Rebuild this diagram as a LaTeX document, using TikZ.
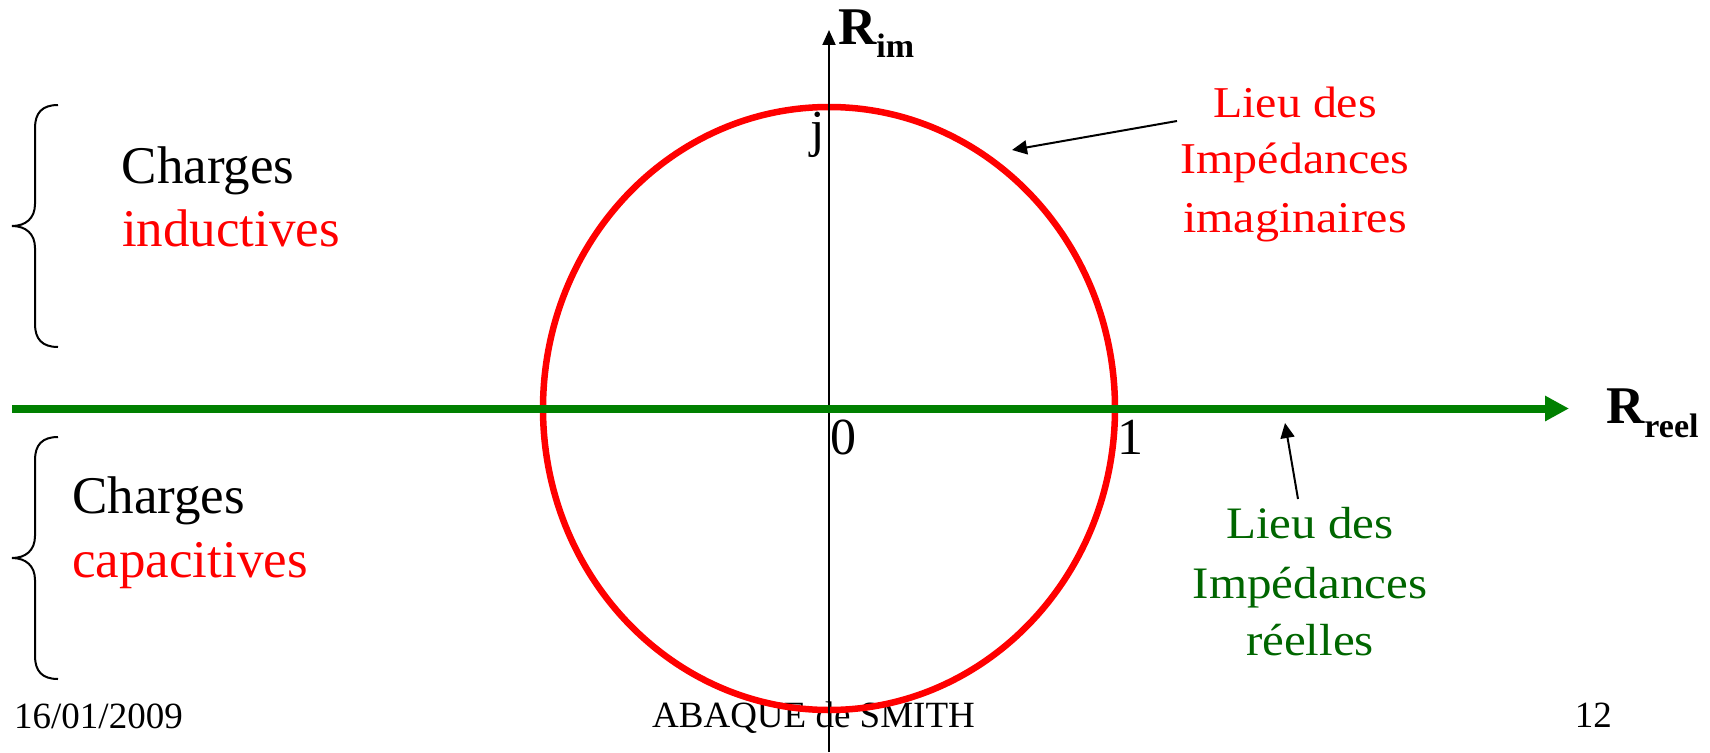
\documentclass[tikz,border=0pt]{standalone}
\usepackage{fontspec}
\setmainfont{Liberation Serif}
\usepackage{graphicx}
\usetikzlibrary{arrows.meta}
\definecolor{axgreen}{RGB}{0,128,0}
\definecolor{txtgreen}{RGB}{0,102,0}
\newcommand{\hsx}[1]{\scalebox{1.09}[1]{#1}}
\begin{document}
\begin{tikzpicture}[x=1pt,y=-1pt,
  big/.style={inner sep=0pt, anchor=base west, font=\fontsize{53}{53}\selectfont},
  note/.style={inner sep=0pt, anchor=base, font=\fontsize{44}{44}\selectfont},
  gnote/.style={note, txtgreen, font=\fontsize{45}{45}\selectfont},
  foot/.style={inner sep=0pt, font=\fontsize{37}{37}\selectfont},
  lbl/.style={inner sep=0pt, anchor=base west, font=\fontsize{52}{52}\selectfont},
  axlbl/.style={inner sep=0pt, anchor=base west, font=\fontsize{53}{53}\selectfont\bfseries},
  brace/.style={line width=2pt},
  callout/.style={line width=2pt, -{Triangle[length=15pt,width=14pt]}},
]
\useasboundingbox (0,0) rectangle (1710,752);

% footer
\node[foot, anchor=base west] (date) at (14,728) {16/01/2009};
\node[foot, anchor=base] (title) at (813.5,727) {ABAQUE de SMITH};
\node[foot, anchor=base east] (page) at (1612,727) {12};

% circle
\coordinate (O) at (829,408.5);
\draw[red, line width=6.5pt] (O) ellipse [x radius=286pt, y radius=301.5pt];

% imaginary axis
\coordinate (ybot) at (829,752);
\coordinate (ytop) at (829,30);
\draw[line width=2pt, -{Triangle[length=15pt,width=13pt]}] (ybot) -- (ytop);

% real axis
\coordinate (xl) at (12,408.5);
\coordinate (xr) at (1569,408.5);
\draw[axgreen, line width=8pt, -{Triangle[length=24pt,width=24pt]}] (xl) -- (xr);

% axis labels
\node[lbl] (j) at (810,146) {j};
\node[lbl] (zero) at (830.5,454) {0};
\node[lbl] (one) at (1117,454) {1};
\node[axlbl] (rim) at (838,45) {R\raisebox{-13pt}{\fontsize{34}{34}\selectfont im}};
\node[axlbl] (rreel) at (1606,423) {R\raisebox{-14pt}{\fontsize{34}{34}\selectfont reel}};

% left texts
\node[big] (ch1) at (121.5,183) {Charges};
\node[big, red] (ind) at (122,246) {inductives};
\node[big] (ch2) at (72,513) {Charges};
\node[big, red] (cap) at (72,577) {capacitives};

% braces
\draw[brace] (58,105) .. controls (42,105) and (35,113) .. (35,128) -- (35,204)
  .. controls (35,218) and (26,226) .. (12,226)
  .. controls (26,226) and (35,234) .. (35,248) -- (35,324)
  .. controls (35,339) and (42,347) .. (58,347);
\draw[brace] (58,437) .. controls (42,437) and (35,445) .. (35,460) -- (35,536)
  .. controls (35,550) and (26,558) .. (12,558)
  .. controls (26,558) and (35,566) .. (35,580) -- (35,656)
  .. controls (35,671) and (42,679) .. (58,679);

% right texts
\node[note, red] (li1) at (1295,117) {\hsx{Lieu des}};
\node[note, red] (li2) at (1295,173) {\hsx{Impédances}};
\node[note, red] (li3) at (1295,232) {\hsx{imaginaires}};
\node[gnote] (lr1) at (1310,538) {\hsx{Lieu des}};
\node[gnote] (lr2) at (1310,598) {\hsx{Impédances}};
\node[gnote] (lr3) at (1310,655) {\hsx{réelles}};

% callouts
\coordinate (c1tail) at (1177,121);
\coordinate (c1tip) at (1012,150);
\draw[callout] (c1tail) -- (c1tip);
\coordinate (c2tail) at (1298,499);
\coordinate (c2tip) at (1285,423);
\draw[callout] (c2tail) -- (c2tip);
\end{tikzpicture}
\end{document}
